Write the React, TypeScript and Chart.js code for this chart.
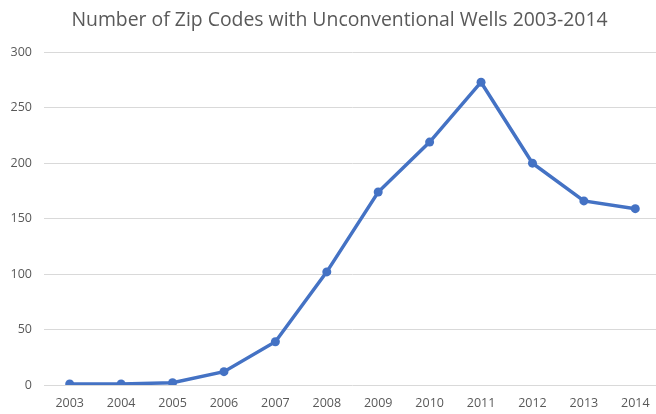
import React, { useEffect, useRef } from "react";
import { Chart, registerables } from "chart.js";

Chart.register(...registerables);

const years = ["2003", "2004", "2005", "2006", "2007", "2008", "2009", "2010", "2011", "2012", "2013", "2014"];
const zipCounts = [1, 1, 2, 12, 39, 102, 174, 219, 273, 200, 166, 159];
const yTicks = [0, 50, 100, 150, 200, 250, 300];
const titleText = "Number of Zip Codes with Unconventional Wells 2003-2014";

const titleShift = {
  id: "titleShift",
  afterLayout(chart: any) {
    const tb = chart.titleBlock;
    if (tb) {
      tb.left = 18;
    }
  },
};

export default function App() {
  const ref = useRef<HTMLCanvasElement | null>(null);
  useEffect(() => {
    if (!ref.current) return;
    const font = "'Open Sans', 'Noto Sans', sans-serif";
    const chart = new Chart(ref.current, {
      type: "line",
      plugins: [titleShift],
      data: {
        labels: years,
        datasets: [
          {
            data: zipCounts,
            borderColor: "#4472C4",
            backgroundColor: "#4472C4",
            borderWidth: 3.5,
            pointRadius: 4.5,
            pointHoverRadius: 4.5,
            pointBackgroundColor: "#4472C4",
            pointBorderColor: "#4472C4",
            pointBorderWidth: 0,
            tension: 0,
          },
        ],
      },
      options: {
        responsive: false,
        animation: false,
        layout: { padding: { left: 0, right: 17, top: 0, bottom: 0 } },
        plugins: {
          legend: { display: false },
          tooltip: { enabled: false },
          title: {
            display: true,
            text: titleText,
            color: "#595959",
            font: { family: font, size: 19.4, weight: "normal" },
            padding: { top: 9, bottom: 20 },
          },
        },
        scales: {
          x: {
            offset: true,
            grid: { display: false },
            border: { display: false },
            ticks: {
              color: "#595959",
              font: { family: font, size: 12.5 },
              padding: 3,
              maxRotation: 0,
              autoSkip: false,
            },
            afterFit: (s: any) => {
              s.height = 29;
            },
          },
          y: {
            min: 0,
            max: 300,
            afterBuildTicks: (s: any) => {
              s.ticks = yTicks.map((v) => ({ value: v }));
            },
            grid: { color: "#d9d9d9", lineWidth: 1, drawTicks: false },
            border: { display: false },
            ticks: {
              color: "#595959",
              font: { family: font, size: 12.5 },
              padding: 12,
            },
            afterFit: (s: any) => {
              s.width = 44;
            },
          },
        },
      },
    });
    return () => chart.destroy();
  }, []);
  return (
    <div style={{ position: "fixed", left: 0, top: 0, width: 656, height: 414, overflow: "hidden", background: "#fff" }}>
      <canvas ref={ref} width={678} height={414} style={{ display: "block" }} />
    </div>
  );
}
